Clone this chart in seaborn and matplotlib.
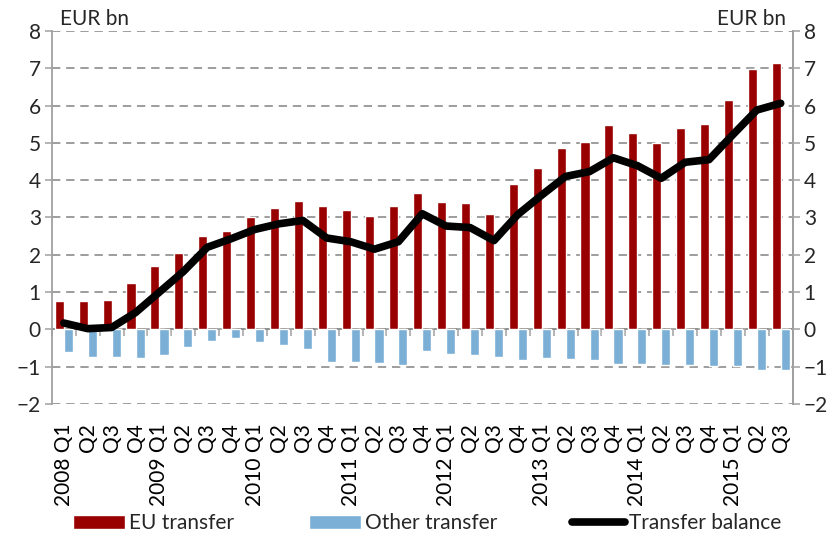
import numpy as np
import pandas as pd
import seaborn as sns
import matplotlib.pyplot as plt
from matplotlib.patches import Patch
from matplotlib.lines import Line2D

# quarters 2008 Q1 .. 2015 Q3
quarters = ["2008 Q1", "Q2", "Q3", "Q4",
            "2009 Q1", "Q2", "Q3", "Q4",
            "2010 Q1", "Q2", "Q3", "Q4",
            "2011 Q1", "Q2", "Q3", "Q4",
            "2012 Q1", "Q2", "Q3", "Q4",
            "2013 Q1", "Q2", "Q3", "Q4",
            "2014 Q1", "Q2", "Q3", "Q4",
            "2015 Q1", "Q2", "Q3"]

eu_transfer = [0.75, 0.75, 0.78, 1.23, 1.70, 2.05, 2.50, 2.65, 3.00, 3.25, 3.43,
               3.30, 3.20, 3.05, 3.30, 3.65, 3.42, 3.40, 3.10, 3.90, 4.32, 4.87,
               5.03, 5.47, 5.27, 5.00, 5.40, 5.50, 6.15, 6.97, 7.13]

other_transfer = [-0.60, -0.75, -0.74, -0.78, -0.68, -0.48, -0.30, -0.22, -0.33, -0.42, -0.52,
                  -0.87, -0.87, -0.90, -0.95, -0.58, -0.67, -0.68, -0.75, -0.83, -0.78, -0.80,
                  -0.83, -0.92, -0.92, -0.95, -0.95, -0.98, -0.97, -1.08, -1.10]

balance = [0.17, 0.02, 0.05, 0.45, 1.00, 1.55, 2.20, 2.43, 2.68, 2.83, 2.92,
           2.45, 2.35, 2.15, 2.35, 3.10, 2.77, 2.73, 2.38, 3.08, 3.60, 4.10,
           4.23, 4.60, 4.39, 4.05, 4.48, 4.55, 5.22, 5.88, 6.06]

series_names = ["EU transfer", "Other transfer"]
colors = {"EU transfer": "#990000", "Other transfer": "#7BAFD5"}

n = len(quarters)
pos = np.arange(n)

df = pd.DataFrame({
    "pos": np.concatenate([pos, pos]),
    "series": [series_names[0]] * n + [series_names[1]] * n,
    "value": eu_transfer + other_transfer,
})

sns.set_theme(style="white")
plt.rcParams['font.family'] = ['Lato', 'DejaVu Sans']
fs = 15

grey = "#8C8C8C"
fig, ax = plt.subplots(figsize=(8.37, 5.43), dpi=100)
fig.subplots_adjust(left=0.062, right=0.947, top=0.943, bottom=0.256)

sns.barplot(data=df, x="pos", y="value", hue="series", hue_order=series_names,
            palette=colors, width=0.76, gap=0, saturation=1, native_scale=True,
            legend=False, ax=ax)
sns.lineplot(x=pos, y=balance, color="black", linewidth=5.5, ax=ax,
             solid_joinstyle="round", solid_capstyle="round")

ax.set_xlim(-0.5, n - 0.5)
ax.set_ylim(-2, 8)
ax.set_yticks(range(-2, 9))
ax.set_axisbelow(True)
ax.yaxis.grid(True, color=grey, linestyle=(0, (5, 3.5)), linewidth=1.2)
ax.xaxis.grid(False)

ax.set_xticks(pos)
ax.set_xticklabels(quarters, rotation=90, va="top", ha="center")
ax.tick_params(axis="x", length=0, pad=14, labelsize=fs, colors="black")
ax.tick_params(axis="y", direction="out", length=5, width=1.1, color="#A0A0A0",
               labelsize=fs, left=True, pad=3)
ax.set_xlabel("")
ax.set_ylabel("")

for s in ["top", "bottom"]:
    ax.spines[s].set_visible(False)
for s in ["left", "right"]:
    ax.spines[s].set_color("#A0A0A0")
    ax.spines[s].set_linewidth(1.3)

# right axis mirrors the left
ax2 = ax.twinx()
ax2.set_ylim(-2, 8)
ax2.set_yticks(range(-2, 9))
ax2.tick_params(axis="y", direction="out", length=5, width=1.1, color="#A0A0A0",
                labelsize=fs, right=True, pad=3)
ax2.grid(False)
for s in ["top", "bottom", "left"]:
    ax2.spines[s].set_visible(False)
ax2.spines["right"].set_color("#A0A0A0")
ax2.spines["right"].set_linewidth(1.3)

# zero line with ticks at quarter boundaries
sec = ax.secondary_xaxis(0.2)
sec.set_xticks(np.arange(n + 1) - 0.5)
sec.set_xticklabels([])
sec.tick_params(axis="x", direction="out", length=5, width=1.1, color="#A0A0A0")
sec.spines["bottom"].set_color("#A0A0A0")
sec.spines["bottom"].set_linewidth(1.3)

ax.text(0.011, 1.016, "EUR bn", transform=ax.transAxes, ha="left", va="baseline", fontsize=fs)
ax.text(0.9905, 1.016, "EUR bn", transform=ax.transAxes, ha="right", va="baseline", fontsize=fs)

handles = [Patch(facecolor=colors["EU transfer"], label="EU transfer"),
           Patch(facecolor=colors["Other transfer"], label="Other transfer"),
           Line2D([0], [0], color="black", linewidth=5.5, label="Transfer balance")]
fig.legend(handles=handles, loc="center", bbox_to_anchor=(0.51, 0.036), ncol=3,
           frameon=False, fontsize=fs, handlelength=2.5, handleheight=0.7,
           handletextpad=0.2, columnspacing=3.6)

plt.savefig("out.png", dpi=100)
